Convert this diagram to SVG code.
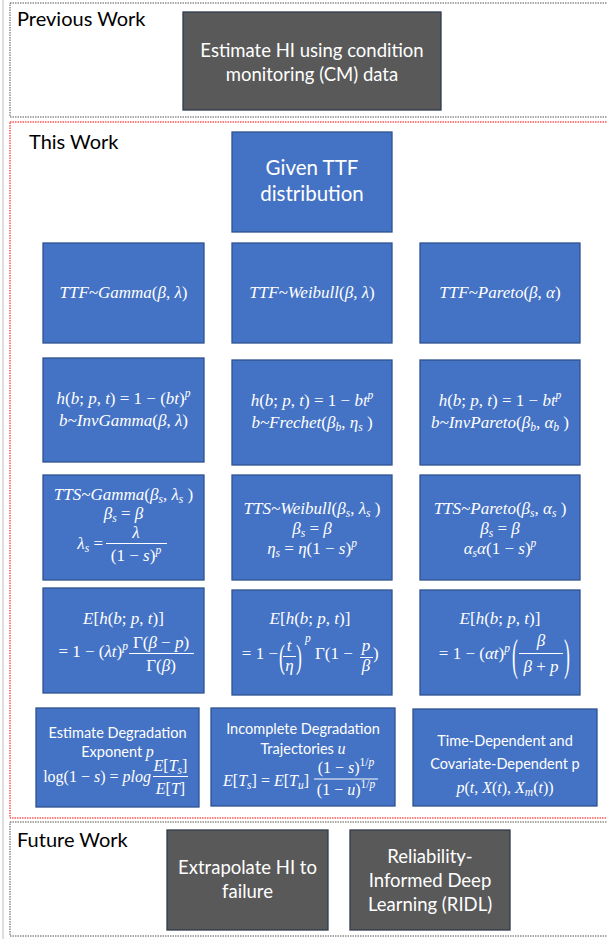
<svg xmlns="http://www.w3.org/2000/svg" width="607" height="939" viewBox="0 0 607 939">
<style>
.bg{fill:#fff}
.sec{fill:none;stroke:#555;stroke-width:1;stroke-dasharray:1.5 1}
.red{fill:none;stroke:#ff0000;stroke-width:1;stroke-dasharray:1.5 1}
.blue{fill:#4472C4;stroke:#2F528F;stroke-width:1.3}
.dark{fill:#595959;stroke:#2F3B4C;stroke-width:1.3}
.lbl{font-family:Lato,"Open Sans",sans-serif;font-size:20px;fill:#000}
.wt{font-family:Lato,"Open Sans",sans-serif;fill:#fff;text-anchor:middle}
.m{font-family:"Liberation Serif",serif;font-style:italic;font-size:17px;fill:#fff;text-anchor:middle}
.ms{font-family:"Liberation Serif",serif;font-style:italic;font-size:17px;fill:#fff}
.me{font-family:"Liberation Serif",serif;font-style:italic;font-size:17px;fill:#fff;text-anchor:end}
.pr{font-family:"Liberation Serif",serif;font-size:16px;fill:#fff}
.u{font-style:normal}
.s{font-size:11.5px}
.r5{font-size:16px}
.bar{stroke:#fff;stroke-width:1}
</style>
<rect class="bg" x="0" y="0" width="607" height="939"/>
<line x1="3" y1="0" x2="3" y2="939" stroke="#c8c8c8" stroke-width="1.2"/>
<g id="previous-work">
  <rect class="sec" x="10" y="3" width="600" height="114"/>
  <text class="lbl" x="17" y="26">Previous Work</text>
</g>
<g id="this-work">
  <rect class="red" x="10" y="122" width="600" height="696"/>
  <text class="lbl" x="29" y="149">This Work</text>
</g>
<g id="future-work">
  <rect class="sec" x="10" y="822" width="600" height="114"/>
  <text class="lbl" x="17" y="847">Future Work</text>
</g>
<g id="connectors"></g>

<g id="estimate-hi">
  <rect class="dark" x="183" y="12" width="258" height="98"/>
  <text class="wt" x="312" y="57" font-size="18.5">Estimate HI using condition</text>
  <text class="wt" x="312" y="81" font-size="18.5">monitoring (CM) data</text>
</g>

<g id="given-ttf">
  <rect class="blue" x="232" y="132" width="160" height="100"/>
  <text class="wt" x="312" y="175" font-size="20.5">Given TTF</text>
  <text class="wt" x="312" y="201" font-size="20.5">distribution</text>
</g>

<g id="ttf-gamma">
  <rect class="blue" x="43" y="243" width="161" height="100"/>
  <text class="m" x="123.5" y="298">TTF~Gamma<tspan class="u">(</tspan>β<tspan class="u">, </tspan>λ<tspan class="u">)</tspan></text>
</g>
<g id="ttf-weibull">
  <rect class="blue" x="232" y="243" width="160" height="100"/>
  <text class="m" x="312" y="298">TTF~Weibull<tspan class="u">(</tspan>β<tspan class="u">, </tspan>λ<tspan class="u">)</tspan></text>
</g>
<g id="ttf-pareto">
  <rect class="blue" x="420" y="243" width="160" height="100"/>
  <text class="m" x="500" y="298">TTF~Pareto<tspan class="u">(</tspan>β<tspan class="u">, </tspan>α<tspan class="u">)</tspan></text>
</g>

<g id="h-gamma">
  <rect class="blue" x="43" y="358" width="161" height="104"/>
  <text class="m" x="123.5" y="404">h<tspan class="u">(</tspan>b<tspan class="u">; </tspan>p<tspan class="u">, </tspan>t<tspan class="u">) = 1 − (</tspan>bt<tspan class="u">)</tspan><tspan class="s" dy="-7">p</tspan></text>
  <text class="m" x="123.5" y="426">b~InvGamma<tspan class="u">(</tspan>β<tspan class="u">, </tspan>λ<tspan class="u">)</tspan></text>
</g>
<g id="h-weibull">
  <rect class="blue" x="232" y="360" width="160" height="105"/>
  <text class="m" x="312" y="406">h<tspan class="u">(</tspan>b<tspan class="u">; </tspan>p<tspan class="u">, </tspan>t<tspan class="u">) = 1 − </tspan>bt<tspan class="s" dy="-7">p</tspan></text>
  <text class="m" x="312" y="428">b~Frechet<tspan class="u">(</tspan>β<tspan class="s" dy="3">b</tspan><tspan class="u" dy="-3">, </tspan>η<tspan class="s" dy="3">s</tspan><tspan class="u" dy="-3"> )</tspan></text>
</g>
<g id="h-pareto">
  <rect class="blue" x="420" y="360" width="160" height="105"/>
  <text class="m" x="500" y="406">h<tspan class="u">(</tspan>b<tspan class="u">; </tspan>p<tspan class="u">, </tspan>t<tspan class="u">) = 1 − </tspan>bt<tspan class="s" dy="-7">p</tspan></text>
  <text class="m" x="500" y="428">b~InvPareto<tspan class="u">(</tspan>β<tspan class="s" dy="3">b</tspan><tspan class="u" dy="-3">, </tspan>α<tspan class="s" dy="3">b</tspan><tspan class="u" dy="-3"> )</tspan></text>
</g>

<g id="tts-gamma">
  <rect class="blue" x="43" y="475" width="161" height="105"/>
  <text class="m" x="123.5" y="500">TTS~Gamma<tspan class="u">(</tspan>β<tspan class="s" dy="3">s</tspan><tspan class="u" dy="-3">, </tspan>λ<tspan class="s" dy="3">s</tspan><tspan class="u" dy="-3"> )</tspan></text>
  <text class="m" x="123.5" y="519">β<tspan class="s" dy="3">s</tspan><tspan class="u" dy="-3"> = </tspan>β</text>
  <text class="me" x="103" y="549">λ<tspan class="s" dy="3">s</tspan><tspan class="u" dy="-3"> =</tspan></text>
  <text class="m" x="136" y="538">λ</text>
  <line class="bar" x1="106" y1="543.5" x2="167" y2="543.5"/>
  <text class="m" x="136" y="561"><tspan class="u">(1 − </tspan>s<tspan class="u">)</tspan><tspan class="s" dy="-7">p</tspan></text>
</g>
<g id="tts-weibull">
  <rect class="blue" x="232" y="475" width="160" height="105"/>
  <text class="m" x="312" y="514">TTS~Weibull<tspan class="u">(</tspan>β<tspan class="s" dy="3">s</tspan><tspan class="u" dy="-3">, </tspan>λ<tspan class="s" dy="3">s</tspan><tspan class="u" dy="-3"> )</tspan></text>
  <text class="m" x="312" y="534">β<tspan class="s" dy="3">s</tspan><tspan class="u" dy="-3"> = </tspan>β</text>
  <text class="m" x="312" y="554">η<tspan class="s" dy="3">s</tspan><tspan class="u" dy="-3"> = </tspan>η<tspan class="u">(1 − </tspan>s<tspan class="u">)</tspan><tspan class="s" dy="-7">p</tspan></text>
</g>
<g id="tts-pareto">
  <rect class="blue" x="420" y="475" width="160" height="105"/>
  <text class="m" x="500" y="514">TTS~Pareto<tspan class="u">(</tspan>β<tspan class="s" dy="3">s</tspan><tspan class="u" dy="-3">, </tspan>α<tspan class="s" dy="3">s</tspan><tspan class="u" dy="-3"> )</tspan></text>
  <text class="m" x="500" y="534">β<tspan class="s" dy="3">s</tspan><tspan class="u" dy="-3"> = </tspan>β</text>
  <text class="m" x="500" y="554">α<tspan class="s" dy="3">s</tspan><tspan dy="-3">α</tspan><tspan class="u">(1 − </tspan>s<tspan class="u">)</tspan><tspan class="s" dy="-7">p</tspan></text>
</g>

<g id="eh-gamma">
  <rect class="blue" x="43" y="588" width="161" height="105"/>
  <text class="m" x="123.5" y="624">E<tspan class="u">[</tspan>h<tspan class="u">(</tspan>b<tspan class="u">; </tspan>p<tspan class="u">, </tspan>t<tspan class="u">)]</tspan></text>
  <text class="me" x="128" y="657"><tspan class="u">= 1 − (</tspan>λt<tspan class="u">)</tspan><tspan class="s" dy="-7">p</tspan></text>
  <text class="m" x="161" y="648"><tspan class="u">Γ(</tspan>β<tspan class="u"> − </tspan>p<tspan class="u">)</tspan></text>
  <line class="bar" x1="129" y1="653.5" x2="194" y2="653.5"/>
  <text class="m" x="161" y="671"><tspan class="u">Γ(</tspan>β<tspan class="u">)</tspan></text>
</g>
<g id="eh-weibull">
  <rect class="blue" x="232" y="590" width="160" height="105"/>
  <text class="m" x="310" y="624">E<tspan class="u">[</tspan>h<tspan class="u">(</tspan>b<tspan class="u">; </tspan>p<tspan class="u">, </tspan>t<tspan class="u">)]</tspan></text>
  <text class="me" x="278" y="659"><tspan class="u">= 1 −</tspan></text>
  <text class="pr" transform="translate(279,668) scale(1.1,2.1)">(</text>
  <text class="m" x="289" y="651">t</text>
  <line class="bar" x1="283" y1="656.5" x2="296" y2="656.5"/>
  <text class="m" x="289.5" y="671">η</text>
  <text class="pr" transform="translate(296,668) scale(1.1,2.1)">)</text>
  <text class="ms s" x="305" y="642">p</text>
  <text class="ms" x="315" y="659"><tspan class="u">Γ(1 −</tspan></text>
  <text class="m" x="366" y="651">p</text>
  <line class="bar" x1="360" y1="657.5" x2="373" y2="657.5"/>
  <text class="m" x="366" y="671">β</text>
  <text class="ms" x="373" y="659"><tspan class="u">)</tspan></text>
</g>
<g id="eh-pareto">
  <rect class="blue" x="420" y="590" width="160" height="105"/>
  <text class="m" x="500" y="624">E<tspan class="u">[</tspan>h<tspan class="u">(</tspan>b<tspan class="u">; </tspan>p<tspan class="u">, </tspan>t<tspan class="u">)]</tspan></text>
  <text class="me" x="510" y="659"><tspan class="u">= 1 − (</tspan>αt<tspan class="u">)</tspan><tspan class="s" dy="-7">p</tspan></text>
  <text class="pr" transform="translate(512,670) scale(1.1,2.8)">(</text>
  <text class="m" x="541" y="646">β</text>
  <line class="bar" x1="519" y1="653.5" x2="563" y2="653.5"/>
  <text class="m" x="541" y="672">β<tspan class="u"> + </tspan>p</text>
  <text class="pr" transform="translate(564,670) scale(1.1,2.8)">)</text>
</g>

<g id="estimate-p">
  <rect class="blue" x="36" y="708" width="163" height="99"/>
  <text class="wt" x="117.5" y="738" font-size="14.5">Estimate Degradation</text>
  <text class="wt" x="117.5" y="757" font-size="14.5">Exponent <tspan font-family="Liberation Serif, serif" font-style="italic" font-size="16">p</tspan></text>
  <text class="me r5" x="151" y="782"><tspan class="u">log(1 − </tspan>s<tspan class="u">) = </tspan>plog</text>
  <text class="m r5" x="170.5" y="771">E<tspan class="u">[</tspan>T<tspan class="s" dy="3">s</tspan><tspan class="u" dy="-3">]</tspan></text>
  <line class="bar" x1="153" y1="776.5" x2="188" y2="776.5"/>
  <text class="m r5" x="170.5" y="794">E<tspan class="u">[</tspan>T<tspan class="u">]</tspan></text>
</g>
<g id="incomplete-trajectories">
  <rect class="blue" x="211" y="708" width="184" height="98"/>
  <text class="wt" x="303" y="734" font-size="14.5">Incomplete Degradation</text>
  <text class="wt" x="303" y="754" font-size="14.5">Trajectories <tspan font-family="Liberation Serif, serif" font-style="italic" font-size="16">u</tspan></text>
  <text class="me r5" x="309" y="786">E<tspan class="u">[</tspan>T<tspan class="s" dy="3">s</tspan><tspan class="u" dy="-3">] = </tspan>E<tspan class="u">[</tspan>T<tspan class="s" dy="3">u</tspan><tspan class="u" dy="-3">]</tspan></text>
  <text class="m r5" x="346" y="773"><tspan class="u">(1 − </tspan>s<tspan class="u">)</tspan><tspan class="s" dy="-7"><tspan class="u">1/</tspan>p</tspan></text>
  <line class="bar" x1="314" y1="779" x2="378" y2="779"/>
  <text class="m r5" x="346" y="795"><tspan class="u">(1 − </tspan>u<tspan class="u">)</tspan><tspan class="s" dy="-7"><tspan class="u">1/</tspan>p</tspan></text>
</g>
<g id="time-dependent-p">
  <rect class="blue" x="413" y="709" width="184" height="97"/>
  <text class="wt" x="505" y="746" font-size="14.5">Time-Dependent and</text>
  <text class="wt" x="505" y="769" font-size="14.5">Covariate-Dependent p</text>
  <text class="m r5" x="505" y="793">p<tspan class="u">(</tspan>t<tspan class="u">, </tspan>X<tspan class="u">(</tspan>t<tspan class="u">), </tspan>X<tspan class="s" dy="3">m</tspan><tspan class="u" dy="-3">(</tspan>t<tspan class="u">))</tspan></text>
</g>

<g id="extrapolate-hi">
  <rect class="dark" x="167" y="830" width="161" height="100"/>
  <text class="wt" x="247.5" y="874" font-size="18.5">Extrapolate HI to</text>
  <text class="wt" x="247.5" y="898" font-size="18.5">failure</text>
</g>
<g id="ridl">
  <rect class="dark" x="350" y="830" width="160" height="100"/>
  <text class="wt" x="430" y="863" font-size="18.5">Reliability-</text>
  <text class="wt" x="430" y="887" font-size="18.5">Informed Deep</text>
  <text class="wt" x="430" y="911" font-size="18.5">Learning (RIDL)</text>
</g>
</svg>
